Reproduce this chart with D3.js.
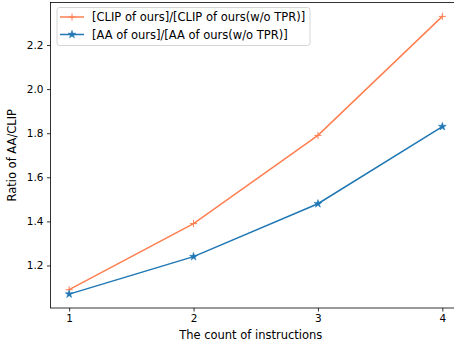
<!DOCTYPE html>
<html>
<head>
<meta charset="utf-8">
<script src="https://cdn.jsdelivr.net/npm/d3@7"></script>
<style>
body { margin: 0; background: #fff; }
text { font-family: "DejaVu Sans", sans-serif; fill: #000; }
</style>
</head>
<body>
<div id="chart-area"></div>
<script>
// data
let counts = [1, 2, 3, 4];
let clipRatio = [1.09, 1.39, 1.79, 2.33];
let aaRatio = [1.07, 1.24, 1.48, 1.83];
let yTicks = [1.2, 1.4, 1.6, 1.8, 2.0, 2.2];
let seriesNames = ["[CLIP of ours]/[CLIP of ours(w/o TPR)]", "[AA of ours]/[AA of ours(w/o TPR)]"];

let margin = {top: 2.5, right: -7, bottom: 37, left: 50.5};
let width = 454 - margin.left - margin.right;
let height = 345 - margin.top - margin.bottom;

let svg = d3.select("#chart-area").append("svg")
	.attr("width", 454)
	.attr("height", 345)
	.append("g")
	.attr("transform", "translate(" + margin.left + "," + margin.top + ")");

let x = d3.scaleLinear().domain([0.85, 4.15]).range([0, width]);
let y = d3.scaleLinear().domain([1.007, 2.393]).range([height, 0]);

// axes
let xAxis = d3.axisBottom(x).tickValues(counts).tickFormat(d3.format("d")).tickSizeOuter(0).tickSize(3.5).tickPadding(3.5);
let yAxis = d3.axisLeft(y).tickValues(yTicks).tickFormat(d3.format(".1f")).tickSizeOuter(0).tickSize(3.5).tickPadding(3.5);

let xg = svg.append("g").attr("transform", "translate(0," + height + ")").call(xAxis);
let yg = svg.append("g").call(yAxis);
[xg, yg].forEach(g => {
	g.selectAll("text").style("font-size", "10.5px").style("font-family", "DejaVu Sans");
	g.selectAll("line").attr("stroke", "#000").attr("stroke-width", 0.8);
	g.select(".domain").remove();
});

// spines
svg.append("rect")
	.attr("x", 0).attr("y", 0)
	.attr("width", width).attr("height", height)
	.attr("fill", "none").attr("stroke", "#000").attr("stroke-width", 0.8);

// axis titles
svg.append("text")
	.attr("x", width / 2 - 5).attr("y", height + 31)
	.attr("text-anchor", "middle")
	.style("font-size", "11.5px")
	.text("The count of instructions");

svg.append("text")
	.attr("transform", "translate(" + (-34.5) + "," + (height / 2) + ") rotate(-90)")
	.attr("text-anchor", "middle")
	.style("font-size", "11.5px")
	.text("Ratio of AA/CLIP");

let line = d3.line().x((d, i) => x(counts[i])).y(d => y(d));

let series = [
	{name: seriesNames[0], values: clipRatio, color: "#ff7f50", marker: "plus"},
	{name: seriesNames[1], values: aaRatio, color: "#1f77b4", marker: "star"}
];

function drawMarker(g, type, color, cx, cy) {
	if (type === "plus") {
		g.append("path")
			.attr("d", "M" + (cx - 3.5) + "," + cy + "H" + (cx + 3.5) + "M" + cx + "," + (cy - 3.5) + "V" + (cy + 3.5))
			.attr("stroke", color).attr("stroke-width", 1).attr("fill", "none");
	} else {
		g.append("path")
			.attr("d", d3.symbol().type(d3.symbolStar).size(20)())
			.attr("transform", "translate(" + cx + "," + cy + ")")
			.attr("fill", color).attr("stroke", color).attr("stroke-width", 0.5);
	}
}

series.forEach(s => {
	svg.append("path")
		.datum(s.values)
		.attr("d", line)
		.attr("fill", "none")
		.attr("stroke", s.color)
		.attr("stroke-width", 1.5);
	s.values.forEach((v, i) => drawMarker(svg, s.marker, s.color, x(counts[i]), y(v)));
});

// legend
let legend = svg.append("g").attr("transform", "translate(6.5,5)");
legend.append("rect")
	.attr("x", 0).attr("y", 0)
	.attr("width", 253).attr("height", 38)
	.attr("rx", 2.5)
	.attr("fill", "#fff").attr("fill-opacity", 0.8)
	.attr("stroke", "#ccc").attr("stroke-width", 0.8);

series.forEach((s, i) => {
	let cy = 9.5 + i * 17.5;
	legend.append("line")
		.attr("x1", 3).attr("x2", 27)
		.attr("y1", cy).attr("y2", cy)
		.attr("stroke", s.color).attr("stroke-width", 1.5);
	drawMarker(legend, s.marker, s.color, 15, cy);
	legend.append("text")
		.attr("x", 35).attr("y", cy)
		.attr("dy", "0.35em")
		.style("font-size", "11.5px")
		.text(s.name);
});
</script>
</body>
</html>
